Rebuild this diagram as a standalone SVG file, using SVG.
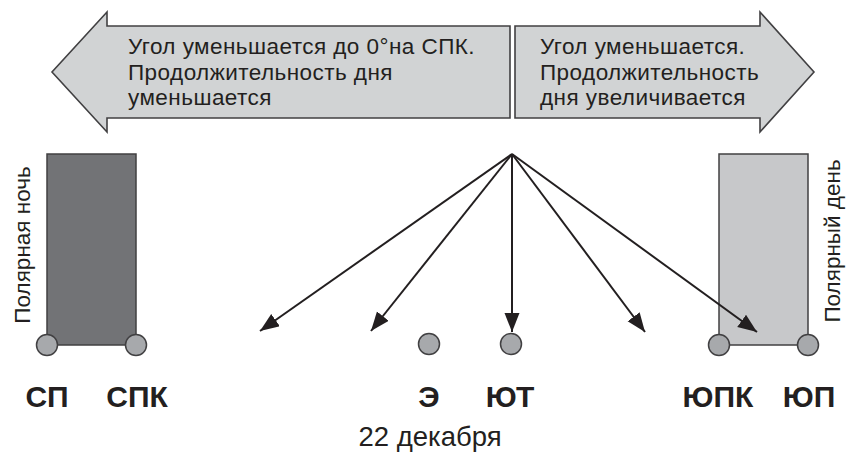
<svg xmlns="http://www.w3.org/2000/svg" width="851" height="461" viewBox="0 0 851 461">
<defs>
<style>
.big{fill:#d1d3d4;stroke:#414042;stroke-width:1.6;stroke-linejoin:miter}
.t{font-family:"Liberation Sans",Arial,sans-serif;fill:#231f20}
.top{font-size:22.5px;letter-spacing:0.45px}
.side{font-size:22.5px}
.lab{font-size:30px;font-weight:bold;text-anchor:middle}
.pt{fill:#a7a9ac;stroke:#414042;stroke-width:1.5}
.con{stroke:#231f20;stroke-width:2;fill:none;marker-end:url(#ah)}
</style>
<marker id="ah" markerUnits="userSpaceOnUse" markerWidth="20" markerHeight="16" refX="19" refY="7.5" orient="auto" viewBox="0 0 20 16">
<path d="M0,0 L19,7.5 L0,15 Z" fill="#231f20"/>
</marker>
</defs>
<rect width="851" height="461" fill="#ffffff"/>

<g id="arrow-left">
<path class="big" d="M510,26 L107,26 L107,12 L52,72 L107,132 L107,118 L510,118 Z"/>
<text class="t top" x="128" y="54">Угол уменьшается до 0°на СПК.</text>
<text class="t top" x="128" y="79.5">Продолжительность дня</text>
<text class="t top" x="128" y="105">уменьшается</text>
</g>

<g id="arrow-right">
<path class="big" d="M515,26 L760,26 L760,12 L814,72 L760,132 L760,118 L515,118 Z"/>
<text class="t top" x="540" y="54">Угол уменьшается.</text>
<text class="t top" x="540" y="79.5">Продолжительность</text>
<text class="t top" x="540" y="105">дня увеличивается</text>
</g>

<g id="polar-night">
<rect x="47" y="154" width="89" height="191" fill="#727376" stroke="#414042" stroke-width="1.5"/>
<text class="t side" transform="translate(30,245) rotate(-90)" text-anchor="middle">Полярная ночь</text>
</g>

<g id="polar-day">
<rect x="719" y="154" width="89" height="191" fill="#c7c8ca" stroke="#414042" stroke-width="1.5"/>
<text class="t side" transform="translate(840,241) rotate(-90)" text-anchor="middle">Полярный день</text>
</g>

<g id="connectors">
<line class="con" x1="512" y1="154" x2="260" y2="331"/>
<line class="con" x1="512" y1="154" x2="371" y2="331"/>
<line class="con" x1="512" y1="154" x2="512" y2="332"/>
<line class="con" x1="512" y1="154" x2="645" y2="332"/>
<line class="con" x1="512" y1="154" x2="757" y2="332"/>
</g>

<g id="node-sp"><circle class="pt" cx="47" cy="345" r="10.5"/><text class="t lab" x="47" y="407">СП</text></g>
<g id="node-spk"><circle class="pt" cx="136" cy="345" r="10.5"/><text class="t lab" x="137" y="407">СПК</text></g>
<g id="node-e"><circle class="pt" cx="429" cy="344" r="10.5"/><text class="t lab" x="429" y="407">Э</text></g>
<g id="node-yut"><circle class="pt" cx="511" cy="344" r="10.5"/><text class="t lab" x="510" y="407">ЮТ</text></g>
<g id="node-yupk"><circle class="pt" cx="719" cy="345" r="10.5"/><text class="t lab" x="718" y="407">ЮПК</text></g>
<g id="node-yup"><circle class="pt" cx="808" cy="345" r="10.5"/><text class="t lab" x="809" y="407">ЮП</text></g>

<text class="t" x="430" y="446" font-size="27.5" text-anchor="middle">22 декабря</text>
</svg>
